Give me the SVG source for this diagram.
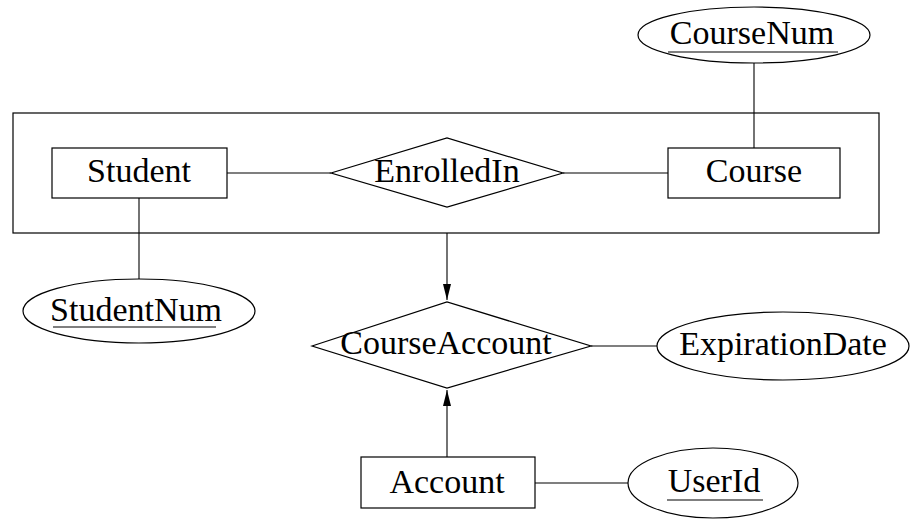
<svg xmlns="http://www.w3.org/2000/svg" width="912" height="528" viewBox="0 0 912 528">
<style>
.s{fill:#fff;stroke:#000;stroke-width:1.2}
.c{stroke:#000;stroke-width:1.1;fill:none}
.t{font-family:"Liberation Serif","Times New Roman",serif;font-size:34px;fill:#000;text-anchor:middle}
.u{stroke:#555;stroke-width:1.5}
</style>
<defs>
<marker id="ah" viewBox="0 0 16 8" refX="16" refY="4" markerWidth="16" markerHeight="8" markerUnits="userSpaceOnUse" orient="auto">
<path d="M0,0 L16,4 L0,8 Z" fill="#000"/>
</marker>
</defs>
<rect x="0" y="0" width="912" height="528" fill="#fff"/>
<g id="connectors">
<line class="c" x1="754" y1="62" x2="754" y2="148"/>
<line class="c" x1="227" y1="173" x2="331" y2="173"/>
<line class="c" x1="563" y1="173" x2="668" y2="173"/>
<line class="c" x1="139" y1="198" x2="139" y2="279"/>
<line class="c" x1="447" y1="233" x2="447" y2="300" marker-end="url(#ah)"/>
<line class="c" x1="591" y1="346" x2="657" y2="346"/>
<line class="c" x1="447" y1="457" x2="447" y2="390" marker-end="url(#ah)"/>
<line class="c" x1="535" y1="483" x2="628" y2="483"/>
</g>
<g id="aggregation">
<rect x="13" y="113" width="866" height="120" fill="none" stroke="#000" stroke-width="1.2"/>
</g>
<g id="CourseNum">
<ellipse class="s" cx="754" cy="35" rx="116" ry="28"/>
<text class="t" x="752" y="44">CourseNum</text>
<line class="u" x1="668" y1="52" x2="838" y2="52"/>
</g>
<g id="Student">
<rect class="s" x="52" y="148" width="175" height="50"/>
<text class="t" x="139" y="182">Student</text>
</g>
<g id="EnrolledIn">
<polygon class="s" points="331,173 447,138 563,173 447,207"/>
<text class="t" x="447" y="182">EnrolledIn</text>
</g>
<g id="Course">
<rect class="s" x="668" y="148" width="172" height="50"/>
<text class="t" x="754" y="182">Course</text>
</g>
<g id="StudentNum">
<ellipse class="s" cx="139" cy="311" rx="116" ry="32"/>
<text class="t" x="136" y="321">StudentNum</text>
<line class="u" x1="53" y1="327" x2="216" y2="327"/>
</g>
<g id="CourseAccount">
<polygon class="s" points="312,346 447,302 591,346 447,388"/>
<text class="t" x="446" y="354">CourseAccount</text>
</g>
<g id="ExpirationDate">
<ellipse class="s" cx="783" cy="346" rx="126" ry="34"/>
<text class="t" x="783" y="355">ExpirationDate</text>
</g>
<g id="Account">
<rect class="s" x="361" y="457" width="174" height="51"/>
<text class="t" x="447" y="493">Account</text>
</g>
<g id="UserId">
<ellipse class="s" cx="713" cy="483" rx="85" ry="35"/>
<text class="t" x="714" y="492">UserId</text>
<line class="u" x1="667" y1="500" x2="763" y2="500"/>
</g>
</svg>
